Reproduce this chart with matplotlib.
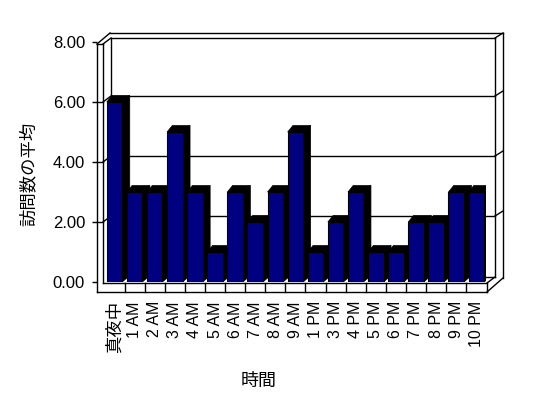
import matplotlib
matplotlib.use("Agg")
import matplotlib.pyplot as plt
from matplotlib.patches import Polygon
from matplotlib.lines import Line2D

plt.rcParams['font.family'] = ['Liberation Sans', 'Noto Sans CJK JP', 'DejaVu Sans']

# ---- data ----
categories = ["真夜中", "1 AM", "2 AM", "3 AM", "4 AM", "5 AM", "6 AM", "7 AM",
              "8 AM", "9 AM", "1 PM", "3 PM", "4 PM", "5 PM", "6 PM", "7 PM",
              "8 PM", "9 PM", "10 PM"]
values = [6, 3, 3, 5, 3, 1, 3, 2, 3, 5, 1, 2, 3, 1, 1, 2, 2, 3, 3]
yticks = [0, 2, 4, 6, 8]
ytick_labels = ["0.00", "2.00", "4.00", "6.00", "8.00"]
ylabel = "訪問数の平均"
xlabel = "時間"

# ---- layout (pixels, y from top) ----
W, H = 548, 398
fig = plt.figure(figsize=(W / 100, H / 100), dpi=100)
fig.patch.set_facecolor("white")

X0, X1 = 104.45, 486.35      # px for data x = -0.5 .. n-0.5
Y0, Y8 = 282.0, 42.0         # px for data y = 0 .. 8
n = len(categories)

def fx(px):
    return px / W

def fy(py):
    return 1 - py / H

# decoration axes in pixel coordinates
deco = fig.add_axes([0, 0, 1, 1], zorder=0)
deco.set_xlim(0, W)
deco.set_ylim(H, 0)
deco.axis("off")

ax = fig.add_axes([fx(X0), fy(Y0), (X1 - X0) / W, (Y0 - Y8) / H], zorder=1)
ax.set_xlim(-0.5, n - 0.5)
ax.set_ylim(yticks[0], yticks[-1])
ax.patch.set_alpha(0)
for s in ax.spines.values():
    s.set_visible(False)

ppx = (X1 - X0) / n                          # pixels per x unit
ppy = (Y0 - Y8) / (yticks[-1] - yticks[0])   # pixels per y unit

def val_py(v):
    return Y0 - (v - yticks[0]) * ppy

lw = 1.0
def L(xs, ys, **kw):
    deco.add_line(Line2D(xs, ys, color="black", lw=lw, solid_capstyle="projecting", **kw))

# back wall / left wall geometry
BX0, BX1, BXO = 111, 495, 503   # back wall inner-left, inner-right, outer-right
BT_in, BT_out = 38, 33
FLOOR_T, FLOOR_B = 283, 292
FL, FR = 97, 487
LW_in = 103
BACK_FLOOR = 277
DEPTH_Y = 6

# back wall face
deco.add_patch(Polygon([(BX0, BT_in), (BX1, BT_in), (BX1, BACK_FLOOR), (BX0, BACK_FLOOR)],
                       closed=True, facecolor="white", edgecolor="none"))
L([FL, 110], [44, BT_out])
L([LW_in, BX0], [44, BT_in])
L([110, BXO], [BT_out, BT_out])
L([BX0, BX1], [BT_in, BT_in])
L([BX1, BXO], [BT_in, BT_out])
L([FL, FL], [44, FLOOR_B])
L([LW_in, LW_in], [44, FLOOR_T])
L([FL, LW_in], [44, 44])
L([BX0, BX0], [BT_in, BACK_FLOOR])
L([BX1, BX1], [BT_in, BACK_FLOOR])
L([BXO, BXO], [BT_out, 278])
# floor
L([LW_in, FR], [FLOOR_T, FLOOR_T])
L([FL, FR], [FLOOR_B, FLOOR_B])
L([FR, FR], [FLOOR_T, FLOOR_B])
L([FR, BX1], [FLOOR_T, BACK_FLOOR])
L([FR, BXO], [FLOOR_B, 278])
L([BX0, BX1], [BACK_FLOOR, BACK_FLOOR])

# gridlines (from the value scale)
for v in yticks[1:-1]:
    pf = val_py(v)
    pb = pf - DEPTH_Y
    L([FL, LW_in], [pf, pf])
    L([LW_in, BX0], [pf, pb])
    L([BX0, BX1], [pb, pb])
    L([BX1, BXO], [pb, pb - 5])

# category dividers on the floor front
for i in range(n - 1):
    xb = X0 + (i + 1) * ppx
    L([xb, xb], [FLOOR_T, FLOOR_B])

# ---- bars ----
xs = list(range(n))
bw = 15.5 / ppx
bars = ax.bar(xs, values, width=bw, color="#000080", edgecolor="black",
              linewidth=0.8, zorder=3)
ddx = 7.5 / ppx
ddy = 6.5 / ppy
for rect in bars:
    x0 = rect.get_x()
    x1 = x0 + rect.get_width()
    h = rect.get_height()
    top = Polygon([(x0, h), (x1, h), (x1 + ddx, h + ddy), (x0 + ddx * 0.7, h + ddy)],
                  closed=True, facecolor="black", edgecolor="black", lw=0.5, zorder=2)
    side = Polygon([(x1, 0), (x1, h), (x1 + ddx, h + ddy), (x1 + ddx, ddy)],
                   closed=True, facecolor="black", edgecolor="black", lw=0.5, zorder=2)
    ax.add_patch(top)
    ax.add_patch(side)

# ---- axes ticks ----
ax.spines["left"].set_position(("outward", (X0 - FL) * 0.72))
ax.set_yticks(yticks)
ax.set_yticklabels(ytick_labels, fontsize=12)
ax.tick_params(axis="y", direction="out", length=3.6, width=1, pad=5.0, colors="black")
ax.set_xticks(xs)
ax.set_xticklabels(categories, rotation=90, fontsize=11.5)
ax.tick_params(axis="x", length=0, pad=(301 - Y0) * 0.72)
for lab in ax.get_xticklabels():
    if lab.get_text() == categories[0]:
        lab.set_fontsize(12.5)

fig.text(fx(28.5), fy(174), ylabel, rotation=90, ha="center", va="center", fontsize=12.5)
fig.text(fx(258.5), fy(381), xlabel, ha="center", va="center", fontsize=13)

fig.savefig("out.png", dpi=100, facecolor="white")
